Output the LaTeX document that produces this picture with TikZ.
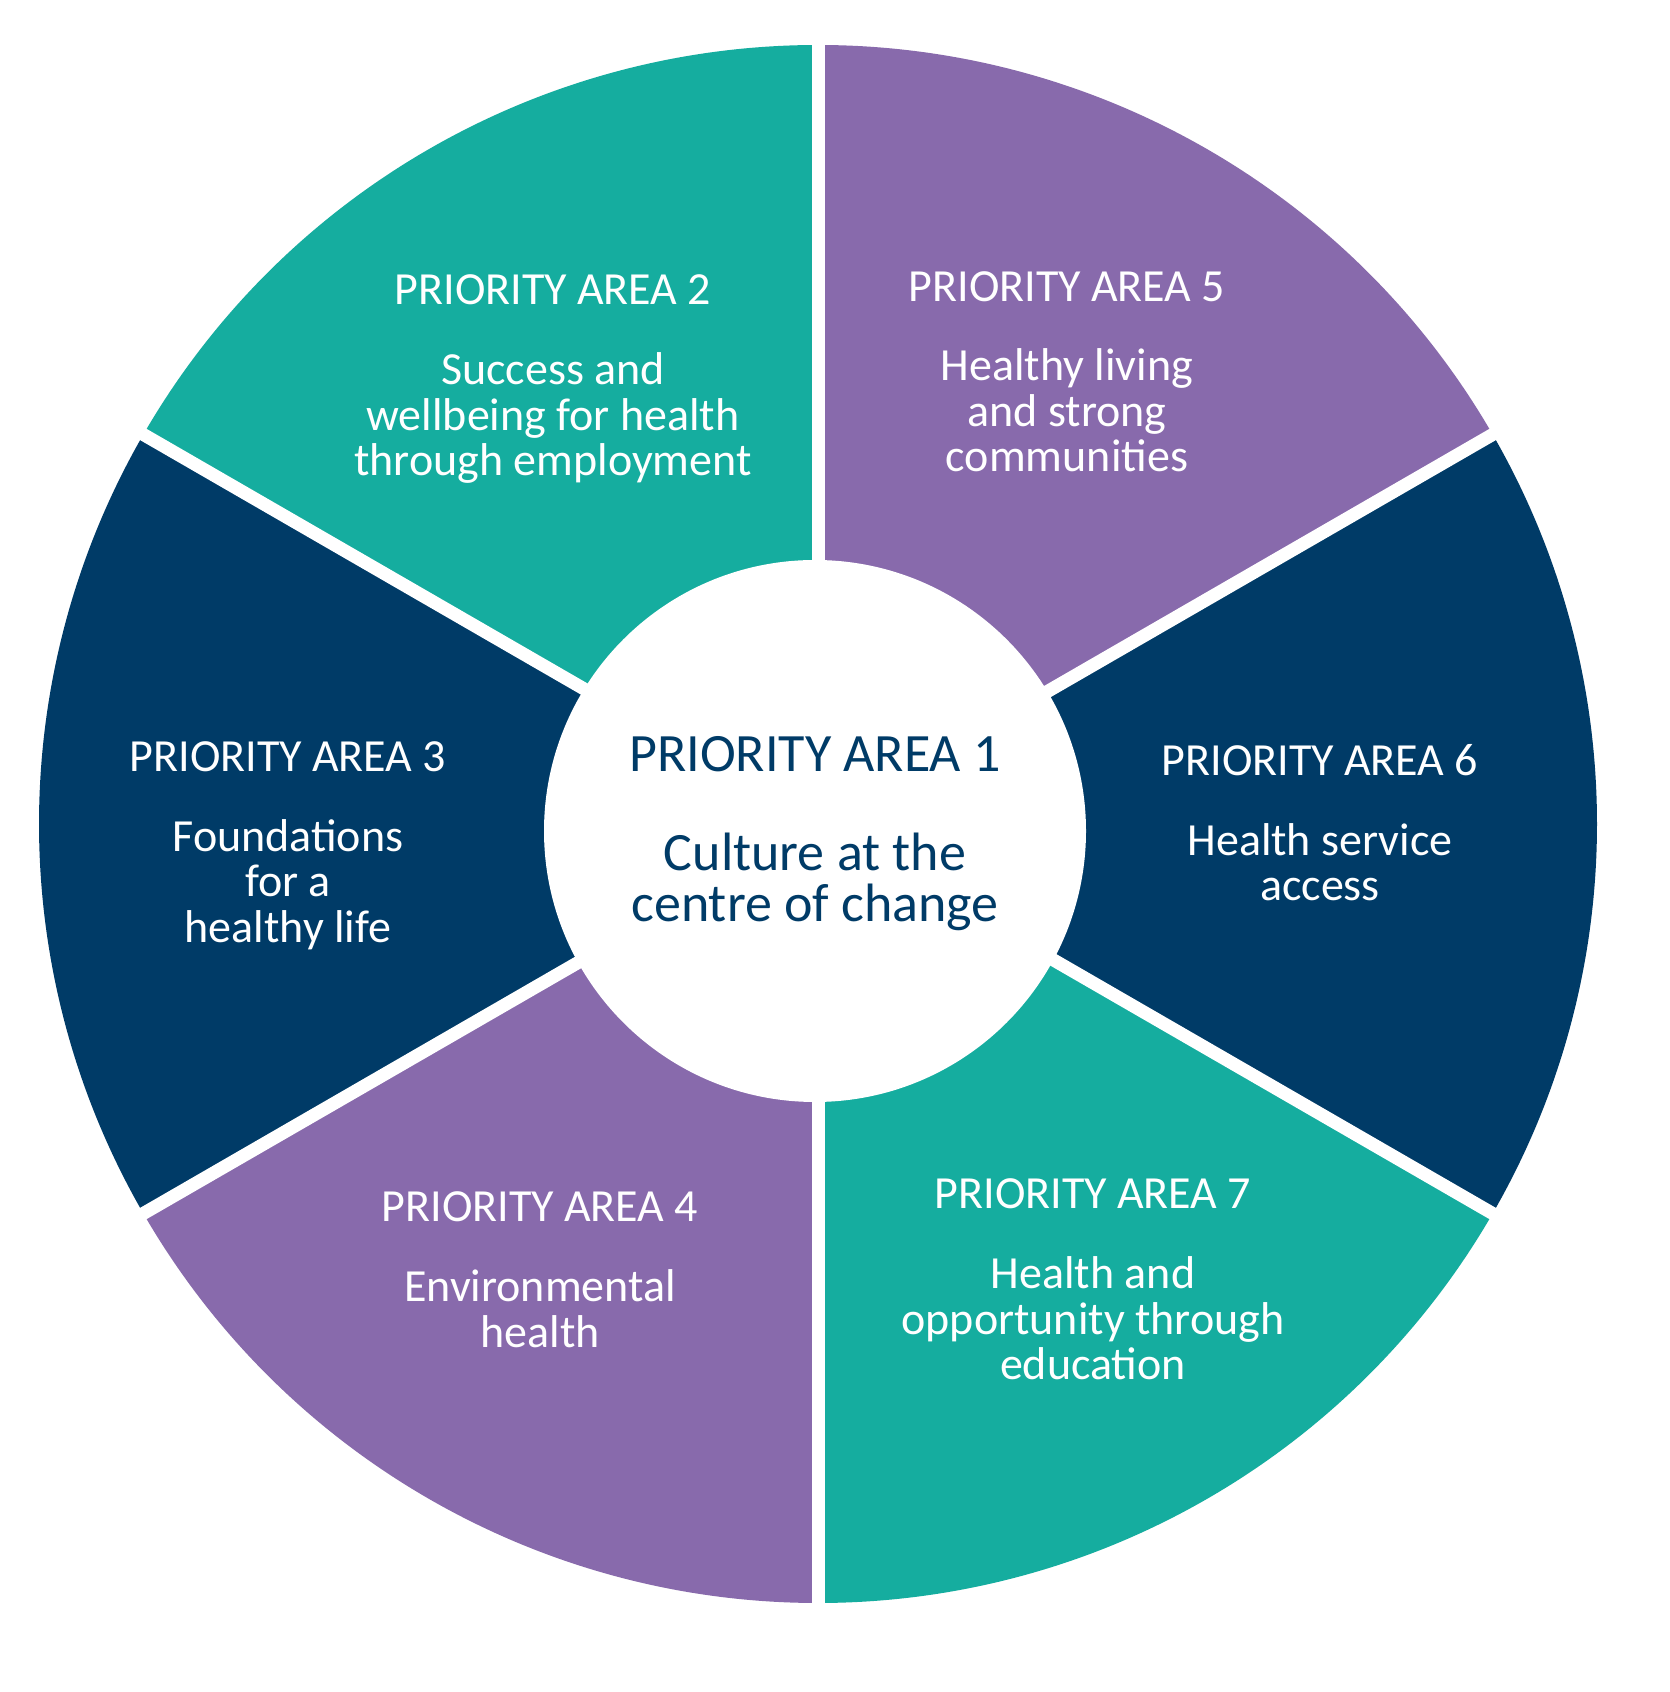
\documentclass[tikz,border=0pt]{standalone}
\usepackage{fontspec}
\setmainfont{Carlito}
\definecolor{wteal}{HTML}{15AD9F}
\definecolor{wpurple}{HTML}{886AAC}
\definecolor{wnavy}{HTML}{003B67}
\begin{document}
\begin{tikzpicture}[x=1pt,y=1pt,
  ttl/.style={anchor=base, text=white, inner sep=0pt, font=\fontsize{46}{45.5}\selectfont},
  bdy/.style={anchor=base, text=white, inner sep=0pt, align=center, font=\fontsize{46}{45.5}\selectfont},
  hubtxt/.style={anchor=base, text=wnavy, inner sep=0pt, align=center, font=\fontsize{54}{51}\selectfont},
  gapline/.style={white, line width=13pt}]
\useasboundingbox (0,0) rectangle (1670,1692);
\fill[white] (0,0) rectangle (1670,1692);
\coordinate (C) at (818,868);
\def\R{779}
% sectors
\fill[wnavy]   (C) -- ++(-30:\R) arc[start angle=-30, end angle=30,  radius=\R] -- cycle;
\fill[wpurple] (C) -- ++(30:\R)  arc[start angle=30,  end angle=90,  radius=\R] -- cycle;
\fill[wteal]   (C) -- ++(90:\R)  arc[start angle=90,  end angle=150, radius=\R] -- cycle;
\fill[wnavy]   (C) -- ++(150:\R) arc[start angle=150, end angle=210, radius=\R] -- cycle;
\fill[wpurple] (C) -- ++(210:\R) arc[start angle=210, end angle=270, radius=\R] -- cycle;
\fill[wteal]   (C) -- ++(270:\R) arc[start angle=270, end angle=330, radius=\R] -- cycle;
% gaps
\foreach \a in {30,90,...,330} \draw[gapline] (C) -- ++(\a:800);
% hub
\node[circle, fill=white, minimum size=542pt, inner sep=0pt] (hub) at (815,861) {};
\node[hubtxt] (t1) at (815,920) {PRIORITY AREA 1};
\node[hubtxt] (b1) at (815,770) {Culture at the\\centre of change};
% PA2
\node[ttl] (t2) at (553,1387) {PRIORITY AREA 2};
\node[bdy] (b2) at (553,1216) {Success and\\wellbeing for health\\through employment};
% PA5
\node[ttl] (t5) at (1067,1390.5) {PRIORITY AREA 5};
\node[bdy] (b5) at (1067,1220) {Healthy living\\and strong\\communities};
% PA3
\node[ttl] (t3) at (288,920) {PRIORITY AREA 3};
\node[bdy] (b3) at (288,749.5) {Foundations\\for a\\healthy life};
% PA6
\node[ttl] (t6) at (1320,916) {PRIORITY AREA 6};
\node[bdy] (b6) at (1320,791) {Health service\\access};
% PA4
\node[ttl] (t4) at (540,470.5) {PRIORITY AREA 4};
\node[bdy] (b4) at (540,344.5) {Environmental\\health};
% PA7
\node[ttl] (t7) at (1093,483.5) {PRIORITY AREA 7};
\node[bdy] (b7) at (1093,312) {Health and\\opportunity through\\education};
\end{tikzpicture}
\end{document}
